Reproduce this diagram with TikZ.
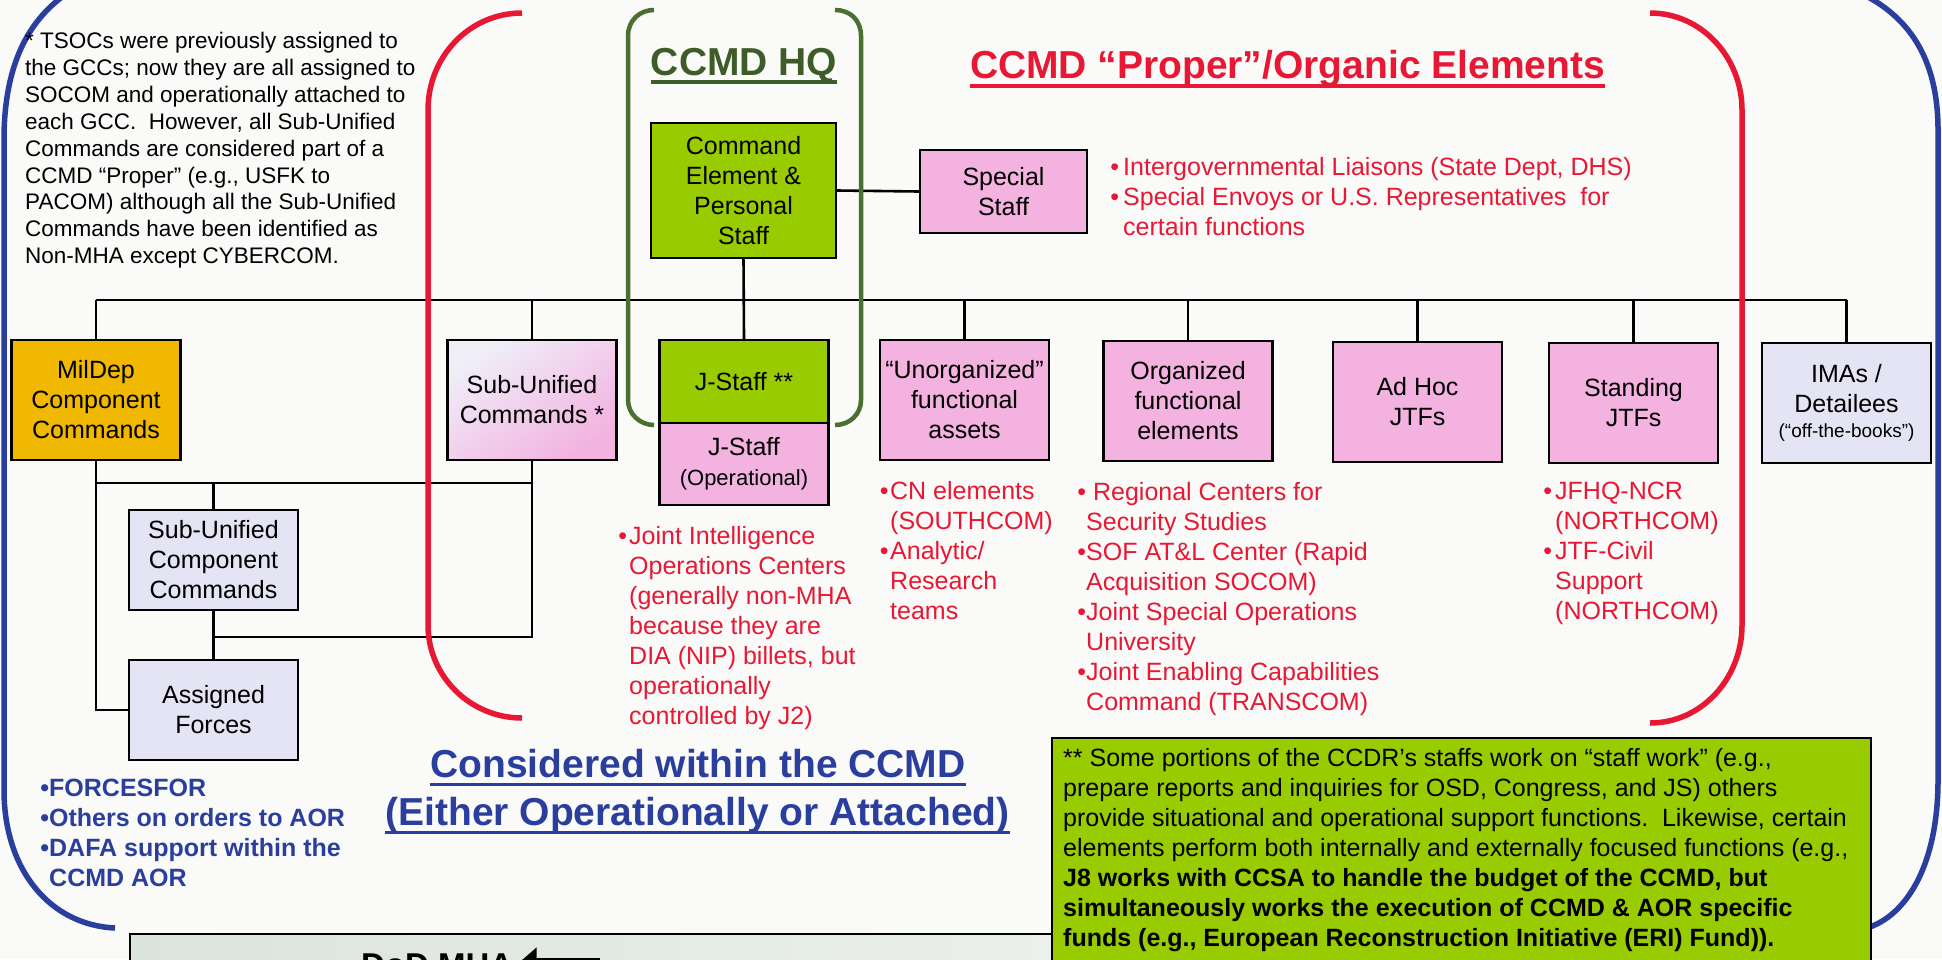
\documentclass[tikz,border=0pt]{standalone}
\usepackage{fontspec}
\setmainfont{Liberation Sans}
\usetikzlibrary{arrows.meta}
\definecolor{ygreen}{RGB}{153,204,0}
\definecolor{pinkc}{RGB}{243,178,224}
\definecolor{lavc}{RGB}{228,228,244}
\definecolor{goldc}{RGB}{240,184,0}
\definecolor{redc}{RGB}{232,24,52}
\definecolor{bluec}{RGB}{42,62,158}
\definecolor{hqgreen}{RGB}{62,92,40}
\definecolor{brgreen}{RGB}{74,112,48}
\definecolor{bgc}{RGB}{250,250,248}
\newcommand{\setfs}[2]{\fontsize{#1}{#2}\selectfont}
\newcommand{\mybul}[1]{\llap{\textbullet\hskip #1pt}}
\begin{document}
\begin{tikzpicture}[x=1pt,y=-1pt,
  box/.style={draw=black, line width=2.4pt, inner sep=0pt, align=center, font={\setfs{25}{30}}, text=black, minimum width=169pt},
  pinkbox/.style={box, fill=pinkc},
  greenbox/.style={box, fill=ygreen},
  lavbox/.style={box, fill=lavc},
  link/.style={draw=black, line width=2.6pt},
  txt/.style={inner sep=0pt, align=left, anchor=north west},
  redtxt/.style={txt, text=redc, font={\setfs{25}{30}}},
  titletxt/.style={anchor=base, inner sep=0pt, font={\bfseries\setfs{39}{44}}},
  redbr/.style={draw=redc, line width=5.5pt},
  bluebr/.style={draw=bluec, line width=5.5pt},
  greenbr/.style={draw=brgreen, line width=4.5pt},
]
\useasboundingbox (0,0) rectangle (1942,959);
\fill[bgc] (0,0) rectangle (1942,959);

% outer blue brackets
\draw[bluebr] (62,-3) .. controls (25,25) and (4,70) .. (4,140) -- (4,790) .. controls (4,870) and (50,925) .. (115,928);
\draw[bluebr] (1868,-3) .. controls (1910,20) and (1938,60) .. (1938,130) -- (1938,780) .. controls (1938,860) and (1910,912) .. (1870,927);

% DoD MHA strip (cut off at bottom)
\node[draw=black, line width=2.4pt, left color={rgb,255:red,218;green,228;blue,220}, right color={rgb,255:red,236;green,240;blue,236}, anchor=north west, minimum width=940pt, minimum height=60pt, inner sep=0pt] (dodbox) at (129,933) {};
\node[anchor=base west, inner sep=0pt, font={\bfseries\setfs{33}{36}}] (dod) at (361,976) {DoD MHA};
\coordinate (arrS) at (600,963);
\draw[line width=11pt, -{Triangle[length=18pt,width=30pt]}] (arrS) -- ([xshift=5pt]dod.east |- arrS);

% green note box
\node[draw=black, line width=2.4pt, fill=ygreen, anchor=north west, minimum width=819pt, minimum height=240pt, inner sep=0pt] (note) at (1051,737) {};
\node[txt, font={\setfs{25}{30}}] (notetext) at ([xshift=12pt,yshift=-11pt]note.north west) {** Some portions of the CCDR’s staffs work on “staff work” (e.g.,\\prepare reports and inquiries for OSD, Congress, and JS) others\\provide situational and operational support functions.\ \ Likewise, certain\\elements perform both internally and externally focused functions (e.g.,\\\textbf{J8 works with CCSA to handle the budget of the CCMD, but}\\\textbf{simultaneously works the execution of CCMD \& AOR specific}\\\textbf{funds (e.g., European Reconstruction Initiative (ERI) Fund)).}};

% boxes
\node[greenbox, minimum width=185pt, minimum height=135pt] (cmd) at (743.5,190.5) {Command\\Element \&\\Personal\\Staff};
\node[pinkbox, minimum width=167pt, minimum height=83pt] (special) at (1003.5,191.5) {Special\\Staff};
\node[box, fill=goldc, minimum height=120pt] (mildep) at (96,400) {MilDep\\Component\\Commands};
\node[box, top color=lavc!60!white, bottom color=pinkc, shading angle=35, minimum height=120pt] (subu) at (532,400) {Sub-Unified\\Commands *};
\node[greenbox, minimum height=83pt] (jstaff) at (744,381.5) {J-Staff **};
\node[pinkbox, minimum height=82pt] (jstaffop) at (744,464) {J-Staff\\{\setfs{22}{26}(Operational)}};
\node[pinkbox, minimum height=120pt] (unorg) at (964.5,400) {“Unorganized”\\functional\\assets};
\node[pinkbox, minimum height=120pt] (org) at (1188,401) {Organized\\functional\\elements};
\node[pinkbox, minimum height=120pt] (adhoc) at (1417.5,402) {Ad Hoc\\JTFs};
\node[pinkbox, minimum height=120pt] (standing) at (1633.5,403) {Standing\\JTFs};
\node[lavbox, minimum height=120pt] (imas) at (1846.5,403) {IMAs /\\Detailees\\[-5pt]{\setfs{19}{22}(“off-the-books”)}};
\node[lavbox, minimum height=100pt] (succ) at (213.5,560) {Sub-Unified\\Component\\Commands};
\node[lavbox, minimum height=100pt] (assigned) at (213.5,710) {Assigned\\Forces};

% connectors
\coordinate (busL) at (96,300);
\draw[link] (busL) -- (imas.north |- busL);
\foreach \n in {mildep,subu,unorg,org,adhoc,standing,imas} \draw[link] (\n.north) -- (\n.north |- busL);
\draw[link] (cmd.south) -- (jstaff.north);
\draw[link] (cmd.east) -- (special.west);
\coordinate (hA) at (96,483);
\coordinate (hB) at (532,637);
\draw[link] (mildep.south) |- (assigned.west);
\draw[link] (hA) -- (subu.south |- hA);
\draw[link] (succ.north |- hA) -- (succ.north);
\draw[link] (subu.south) |- (succ.south |- hB);
\draw[link] (succ.south) -- (assigned.north);

% red and green brackets
\draw[redbr] (522,13) .. controls (470,13) and (428,56) .. (428,110) -- (428,625) .. controls (428,676) and (470,718) .. (522,718);
\draw[redbr] (1650,13) .. controls (1702,13) and (1742,58) .. (1742,110) -- (1742,625) .. controls (1742,678) and (1702,723) .. (1650,723);
\draw[greenbr] (654,10) .. controls (640,10) and (628,20) .. (628,36) -- (628,400) .. controls (628,414) and (640,425) .. (654,425);
\draw[greenbr] (835,10) .. controls (850,10) and (861,20) .. (861,36) -- (861,400) .. controls (861,414) and (850,425) .. (835,425);

% titles
\node[titletxt, text=hqgreen] (hq) at (744,75) {CCMD HQ};
\draw[hqgreen, line width=3.5pt] ([yshift=-7pt]hq.base west) -- ([yshift=-7pt]hq.base east);
\node[titletxt, text=redc] (proper) at (1287.5,78) {CCMD “Proper”/Organic Elements};
\draw[redc, line width=3.5pt] ([yshift=-8pt]proper.base west) -- ([yshift=-8pt]proper.base east);
\node[titletxt, text=bluec] (cons1) at (698,777) {Considered within the CCMD};
\draw[bluec, line width=3pt] ([yshift=-7pt]cons1.base west) -- ([yshift=-7pt]cons1.base east);
\node[titletxt, text=bluec] (cons2) at (697.5,825) {(Either Operationally or Attached)};
\draw[bluec, line width=3pt] ([yshift=-7pt]cons2.base west) -- ([yshift=-7pt]cons2.base east);

% texts
\node[txt, text=black, font={\setfs{22.5}{26.9}}] (tsoc) at (25,32) {* TSOCs were previously assigned to\\the GCCs; now they are all assigned to\\SOCOM and operationally attached to\\each GCC.\ \ However, all Sub-Unified\\Commands are considered part of a\\CCMD “Proper” (e.g., USFK to\\PACOM) although all the Sub-Unified\\Commands have been identified as\\Non-MHA except CYBERCOM.};

\node[redtxt] (splist) at (1123,157) {\mybul{4}Intergovernmental Liaisons (State Dept, DHS)\\\mybul{4}Special Envoys or U.S. Representatives\ \ for\\certain functions};
\node[redtxt] (jlist) at (629,526) {\mybul{2}Joint Intelligence\\Operations Centers\\(generally non-MHA\\because they are\\DIA (NIP) billets, but\\operationally\\controlled by J2)};
\node[redtxt] (ulist) at (890,481) {\mybul{1.5}CN elements\\(SOUTHCOM)\\\mybul{1.5}Analytic/\\Research\\teams};
\node[redtxt] (olist) at (1086,482) {\mybul{0}\ Regional Centers for\\Security Studies\\\mybul{0}SOF AT\&L Center (Rapid\\Acquisition SOCOM)\\\mybul{0}Joint Special Operations\\University\\\mybul{0}Joint Enabling Capabilities\\Command (TRANSCOM)};
\node[redtxt] (slist) at (1555,482) {\mybul{3}JFHQ-NCR\\(NORTHCOM)\\\mybul{3}JTF-Civil\\Support\\(NORTHCOM)};
\node[txt, text=bluec, font={\bfseries\setfs{25}{30}}] (blist) at (49,779) {\mybul{0}FORCESFOR\\\mybul{0}Others on orders to AOR\\\mybul{0}DAFA support within the\\CCMD AOR};
\end{tikzpicture}
\end{document}
